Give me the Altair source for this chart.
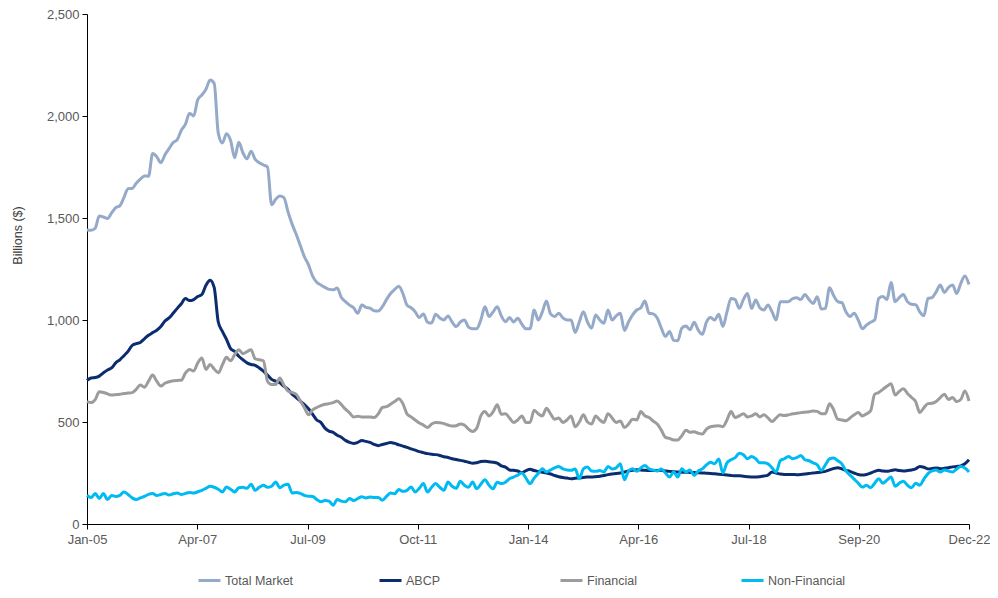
import altair as alt
import pandas as pd

tick_labels = ["Jan-05", "Apr-07", "Jul-09", "Oct-11", "Jan-14", "Apr-16", "Jul-18", "Sep-20", "Dec-22"]
series_names = ["Total Market", "ABCP", "Financial", "Non-Financial"]
series_colors = ["#95A9C9", "#0B2D6F", "#9C9C9C", "#00BAF2"]
y_ticks = [0, 500, 1000, 1500, 2000, 2500]

# monthly values, Jan-05 .. Dec-22 (Billions $)
total_market = [
    1441, 1440, 1450, 1510, 1505, 1498, 1525, 1551, 1560, 1600, 1644, 1645,
    1670, 1690, 1706, 1705, 1816, 1800, 1771, 1810, 1840, 1870, 1884, 1930,
    1960, 2014, 2000, 2080, 2103, 2131, 2176, 2160, 1916, 1868, 1913, 1880,
    1795, 1871, 1820, 1790, 1827, 1787, 1771, 1760, 1750, 1565, 1592, 1608,
    1600, 1530, 1470, 1420, 1365, 1310, 1270, 1215, 1185, 1172, 1160, 1150,
    1148, 1157, 1110, 1090, 1073, 1060, 1033, 1073, 1062, 1058, 1045, 1044,
    1065, 1100, 1130, 1150, 1166, 1130, 1073, 1060, 1040, 1012, 1030, 990,
    985, 1028, 1010, 1000, 1020, 990, 968, 990, 1000, 965, 957, 957,
    1000, 1065, 1017, 1040, 1065, 1020, 992, 1012, 990, 1008, 980, 957,
    957, 1049, 1000, 1040, 1093, 1030, 1017, 1033, 1010, 1000, 1000, 939,
    990, 1041, 990, 960, 1025, 1000, 984, 1049, 1000, 1020, 1033, 949,
    990, 1025, 1049, 1060, 1093, 1033, 1030, 1010, 960, 919, 944, 900,
    898, 960, 970, 952, 989, 950, 930, 990, 1012, 1000, 1028, 968,
    1040, 1106, 1100, 1057, 1100, 1130, 1057, 1098, 1060, 1049, 1073, 1040,
    1000, 1090, 1090, 1090, 1105, 1109, 1100, 1125, 1100, 1081, 1114, 1054,
    1057, 1158, 1120, 1090, 1085, 1040, 1017, 1033, 1000, 957, 975, 989,
    1000, 1106, 1115, 1100, 1184, 1090, 1110, 1125, 1090, 1077, 1075, 1040,
    1021, 1106, 1110, 1138, 1171, 1135, 1160, 1171, 1130, 1180, 1216, 1174,
]

abcp = [
    704, 716, 718, 725, 741, 755, 765, 790, 805, 825, 846, 875,
    884, 890, 908, 925, 938, 950, 968, 995, 1010, 1033, 1057, 1080,
    1105, 1095, 1100, 1115, 1125, 1170, 1195, 1160, 990, 944, 905, 860,
    846, 822, 805, 790, 782, 778, 765, 749, 730, 709, 700, 692,
    675, 660, 636, 620, 603, 585, 565, 538, 510, 498, 470, 455,
    449, 435, 425, 410, 400, 395, 400, 409, 405, 400, 390, 384,
    390, 395, 399, 395, 388, 382, 376, 368, 362, 355, 350, 345,
    342, 340, 336, 330, 326, 320, 316, 312, 308, 303, 298, 300,
    306, 308, 305, 303, 298, 285, 279, 265, 263, 260, 252, 262,
    268, 262, 258, 254, 250, 245, 238, 232, 228, 225, 222, 224,
    226, 228, 230, 230, 232, 234, 238, 242, 245, 247, 250, 255,
    260, 263, 266, 265, 263, 262, 262, 262, 263, 260, 258, 256,
    255, 254, 254, 253, 252, 251, 250, 249, 248, 246, 244, 242,
    240, 238, 236, 236, 234, 232, 230, 230, 232, 235, 240, 255,
    250, 245, 243, 243, 243, 242, 243, 245, 248, 250, 252, 255,
    258, 265, 272, 276, 270, 263, 258, 250, 243, 240, 243, 250,
    258, 263, 260, 258, 262, 266, 262, 260, 262, 265, 270, 282,
    278, 270, 272, 275, 271, 273, 276, 280, 282, 285, 295, 315,
]

financial = [
    600, 595, 610, 648, 645, 638, 632, 634, 636, 640, 642, 644,
    660, 681, 670, 700, 730, 700, 676, 690, 697, 702, 704, 705,
    740, 757, 750, 790, 814, 757, 782, 760, 741, 780, 817, 800,
    830, 854, 835, 845, 854, 809, 805, 800, 700, 684, 684, 716,
    680, 652, 645, 636, 603, 570, 535, 560, 571, 580, 587, 590,
    595, 603, 585, 563, 545, 525, 528, 525, 524, 525, 522, 540,
    571, 575, 587, 600, 614, 590, 540, 525, 510, 495, 485, 473,
    490, 498, 496, 492, 485, 480, 482, 490, 485, 465, 454, 470,
    530, 551, 530, 550, 584, 538, 540, 520, 498, 510, 530, 498,
    498, 558, 540, 530, 568, 540, 514, 520, 498, 510, 530, 477,
    500, 535, 500, 490, 530, 510, 498, 541, 520, 498, 505, 473,
    490, 514, 510, 551, 530, 522, 505, 490, 460, 425, 420, 412,
    412, 433, 460, 450, 452, 445, 441, 465, 477, 480, 482, 477,
    510, 551, 522, 530, 541, 525, 530, 540, 525, 535, 520, 502,
    520, 535, 532, 535, 540, 543, 546, 548, 550, 554, 552, 541,
    541, 590, 560, 514, 510, 506, 520, 535, 546, 530, 540, 554,
    636, 645, 660, 675, 687, 632, 650, 663, 640, 620, 600, 546,
    570, 590, 592, 600, 620, 636, 610, 620, 600, 610, 652, 603,
]

non_financial = [
    141, 130, 149, 125, 149, 120, 140, 135, 140, 157, 145, 128,
    120, 128, 135, 145, 149, 140, 145, 150, 142, 148, 152, 145,
    150, 155, 152, 158, 165, 175, 185, 180, 170, 157, 181, 170,
    157, 178, 180, 175, 195, 165, 180, 190, 180, 185, 206, 178,
    190, 195, 152, 155, 150, 140, 136, 135, 120, 109, 115, 112,
    92, 120, 112, 109, 125, 115, 125, 133, 128, 132, 130, 130,
    117, 135, 152, 148, 169, 160, 165, 181, 157, 175, 198, 157,
    180, 198, 180, 165, 206, 185, 175, 209, 190, 180, 206, 173,
    195, 217, 190, 173, 205, 198, 205, 222, 230, 240, 250, 225,
    198, 225, 247, 271, 255, 265, 275, 282, 270, 265, 263, 270,
    222, 270, 279, 260, 258, 262, 255, 282, 270, 275, 295, 217,
    260, 271, 258, 275, 287, 270, 265, 260, 270, 250, 230, 255,
    230, 271, 255, 265, 238, 260, 270, 290, 303, 295, 319, 250,
    300, 315, 325, 347, 340, 320, 331, 320, 300, 300, 295, 275,
    255, 311, 320, 331, 320, 325, 336, 315, 310, 300, 290, 263,
    290, 319, 324, 310, 295, 260, 240, 220, 200, 181, 190, 178,
    200, 222, 200, 215, 230, 185, 200, 210, 190, 178, 200, 190,
    220, 247, 260, 265, 255, 265, 260, 255, 270, 282, 275, 255,
]

all_series = [total_market, abcp, financial, non_financial]
rows = []
for k, (name, vals) in enumerate(zip(series_names, all_series)):
    for i, v in enumerate(vals):
        rows.append({"m": i, "value": v, "series": name, "k": k})
df = pd.DataFrame(rows)

n = len(total_market)
step = (n - 1) / (len(tick_labels) - 1)
tick_vals = [i * step for i in range(len(tick_labels))]
label_expr = "[" + ",".join("'" + t + "'" for t in tick_labels) + "][round(datum.value / " + str(step) + ")]"

FONT = "Liberation Sans"
TXT = "#595959"

chart = alt.Chart(df).mark_line(strokeWidth=3, interpolate="monotone").encode(
    x=alt.X(
        "m:Q",
        scale=alt.Scale(domain=[0, n - 1], nice=False, zero=False),
        axis=alt.Axis(values=tick_vals, labelExpr=label_expr, title=None, grid=False,
                      tickSize=5, labelPadding=4, labelFlush=False),
    ),
    y=alt.Y(
        "value:Q",
        scale=alt.Scale(domain=[0, 2500], nice=False),
        axis=alt.Axis(values=y_ticks, format=",.0f", title="Billions ($)", grid=False,
                      tickSize=5, labelPadding=3, titleX=-70, titleY=221,
                      titleAngle=270, titleAlign="center", titleBaseline="middle",
                      titleFontWeight="normal"),
    ),
    color=alt.Color(
        "series:N",
        scale=alt.Scale(domain=series_names, range=series_colors),
        legend=alt.Legend(
            title=None, orient="none", direction="horizontal",
            legendX=110, legendY=554,
            symbolType="stroke", symbolSize=484, symbolStrokeWidth=3,
            labelFont=FONT, labelFontSize=12.5, labelColor=TXT, labelOffset=3,
            columnPadding=70, gridAlign="all",
        ),
    ),
    detail="k:O",
).properties(
    width=882,
    height=510,
    autosize=alt.AutoSizeParams(type="none"),
    padding={"left": 79, "top": 6, "right": 21, "bottom": 66},
    background="white",
).configure_view(
    strokeWidth=0
).configure_axis(
    domainColor="#000000", tickColor="#000000", domainWidth=1, tickWidth=1,
    labelFont=FONT, labelFontSize=13, labelColor=TXT,
    titleFont=FONT, titleFontSize=12.5, titleFontWeight="normal", titleColor="#404040",
)

chart.save("out.html", embed_options={"renderer": "svg", "actions": False})
